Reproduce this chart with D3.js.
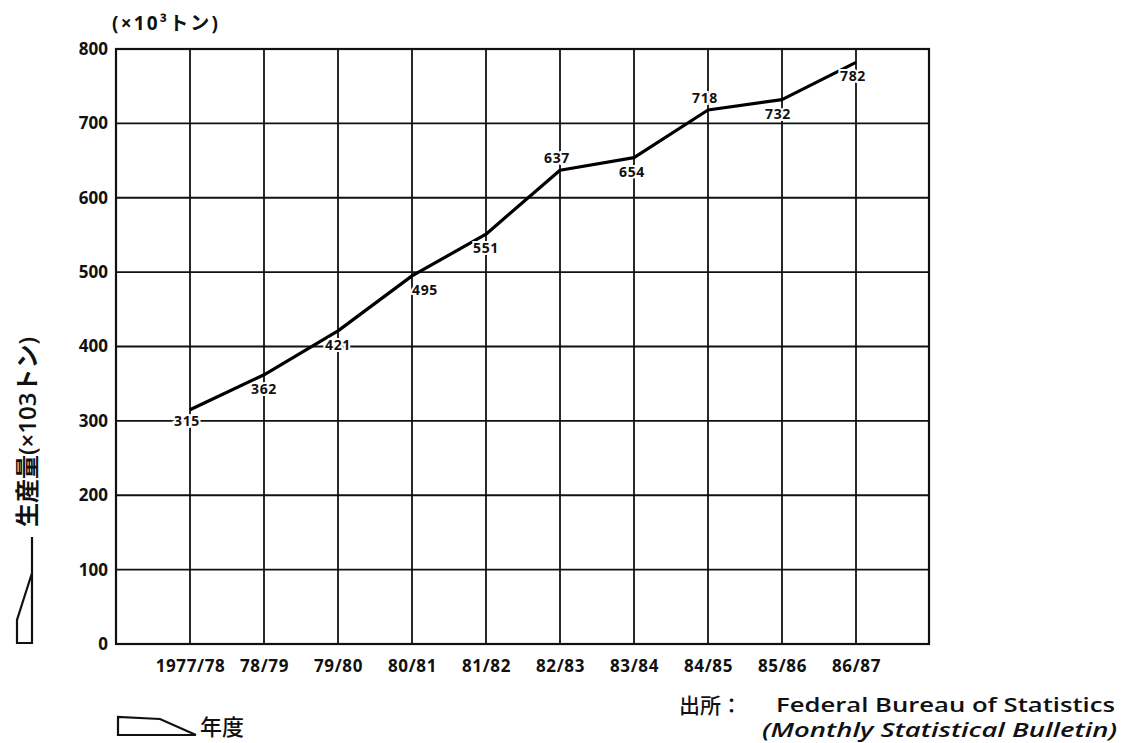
<!DOCTYPE html>
<html>
<head>
<meta charset="utf-8">
<script src="https://cdn.jsdelivr.net/npm/d3@7"></script>
<style>
  body { margin: 0; background: #fff; }
  svg text { font-family: "Open Sans", "Noto Sans CJK JP", sans-serif; fill: #111; }
</style>
</head>
<body>
<div id="chart"></div>
<script>
// Data
const years = ["1977/78", "78/79", "79/80", "80/81", "81/82", "82/83", "83/84", "84/85", "85/86", "86/87"];
const production = [315, 362, 421, 495, 551, 637, 654, 718, 732, 782];
const yTicks = [0, 100, 200, 300, 400, 500, 600, 700, 800];

const W = 1123, H = 743;
const plot = { left: 116, right: 929, top: 49, bottom: 644 };

const svg = d3.select("#chart")
    .append("svg")
    .attr("width", W)
    .attr("height", H);

// Scales: categories sit on index positions, one empty slot on the left
const x = d3.scaleLinear().domain([-1, 10]).range([plot.left, plot.right + 1]);
const y = d3.scaleLinear().domain([0, 800]).range([plot.bottom, plot.top]);

// Horizontal grid
svg.append("g")
    .selectAll("line")
    .data(yTicks)
    .join("line")
    .attr("x1", plot.left).attr("x2", plot.right)
    .attr("y1", d => y(d)).attr("y2", d => y(d))
    .attr("stroke", "#111")
    .attr("stroke-width", 1.8);

// Vertical grid at each year
svg.append("g")
    .selectAll("line")
    .data(years)
    .join("line")
    .attr("x1", (d, i) => x(i)).attr("x2", (d, i) => x(i))
    .attr("y1", plot.top).attr("y2", plot.bottom)
    .attr("stroke", "#111")
    .attr("stroke-width", 1.8);

// Frame
svg.append("rect")
    .attr("x", plot.left).attr("y", plot.top)
    .attr("width", plot.right - plot.left).attr("height", plot.bottom - plot.top)
    .attr("fill", "none")
    .attr("stroke", "#111")
    .attr("stroke-width", 2.2);

// Y axis labels
const yAxis = svg.append("g")
    .attr("transform", `translate(${plot.left},0)`)
    .call(d3.axisLeft(y).tickValues(yTicks).tickSize(0).tickPadding(8));
yAxis.select(".domain").remove();
yAxis.selectAll("text")
    .attr("font-size", 17)
    .attr("font-weight", 700)
    .style("font-family", "'Open Sans', sans-serif")
    .attr("fill", "#111");

// X axis labels
const xAxis = svg.append("g")
    .attr("transform", `translate(0,${plot.bottom})`)
    .call(d3.axisBottom(x).tickValues(d3.range(years.length)).tickFormat(i => years[i]).tickSize(0).tickPadding(16));
xAxis.select(".domain").remove();
xAxis.selectAll("text")
    .attr("font-size", 17)
    .attr("font-weight", 700)
    .attr("letter-spacing", 0.6)
    .style("font-family", "'Open Sans', sans-serif")
    .attr("fill", "#111");

// The production line
const line = d3.line()
    .x((d, i) => x(i))
    .y(d => y(d));

svg.append("path")
    .datum(production)
    .attr("d", line)
    .attr("fill", "none")
    .attr("stroke", "#000")
    .attr("stroke-width", 3.2)
    .attr("stroke-linejoin", "round");

// Value labels, mostly below the point; a few sit above
const above = new Set([5, 7]);
const nudgeX = { 0: -3, 3: 13, 5: -3, 6: -2, 7: -3, 8: -4, 9: -3 };
svg.append("g")
    .selectAll("text")
    .data(production)
    .join("text")
    .attr("x", (d, i) => x(i) + (nudgeX[i] || 0))
    .attr("y", (d, i) => i === 0 ? y(300) + 5 : above.has(i) ? y(d) - 7 : y(d) + 19)
    .attr("text-anchor", "middle")
    .attr("font-size", 14)
    .attr("font-weight", 700)
    .attr("letter-spacing", 0.6)
    .attr("stroke", "#fff")
    .attr("stroke-width", 4)
    .attr("paint-order", "stroke")
    .text(d => d);

// Unit above the axis
svg.append("text")
    .attr("x", 112).attr("y", 30)
    .attr("font-size", 19)
    .attr("font-weight", 700)
    .attr("textLength", 106)
    .attr("lengthAdjust", "spacing")
    .text("(×10³トン)");

// Rotated Y title with wedge marker
svg.append("text")
    .attr("transform", "translate(36,432) rotate(-90)")
    .attr("text-anchor", "middle")
    .attr("font-size", 24)
    .attr("font-weight", 600)
    .text("生産量(×103トン)");

svg.append("path")
    .attr("d", "M32,537 L32,643 L17,643 L17,620 L32,573")
    .attr("fill", "none")
    .attr("stroke", "#111")
    .attr("stroke-width", 2.2);

// X title with wedge marker
svg.append("path")
    .attr("d", "M196,735 L118,735 L118,717 L160,719 L196,735")
    .attr("fill", "none")
    .attr("stroke", "#111")
    .attr("stroke-width", 2.2);

svg.append("text")
    .attr("x", 200).attr("y", 735)
    .attr("font-size", 22)
    .attr("font-weight", 500)
    .text("年度");

// Source note
svg.append("text")
    .attr("x", 679).attr("y", 713)
    .attr("font-size", 21)
    .attr("font-weight", 500)
    .text("出所：");
svg.append("text")
    .attr("x", 776).attr("y", 712)
    .attr("font-size", 20)
    .attr("font-weight", 600)
    .attr("textLength", 339)
    .attr("lengthAdjust", "spacingAndGlyphs")
    .text("Federal Bureau of Statistics");
svg.append("text")
    .attr("x", 762).attr("y", 737)
    .attr("font-size", 20)
    .attr("font-weight", 600)
    .attr("font-style", "italic")
    .attr("textLength", 355)
    .attr("lengthAdjust", "spacingAndGlyphs")
    .text("(Monthly Statistical Bulletin)");
</script>
</body>
</html>
